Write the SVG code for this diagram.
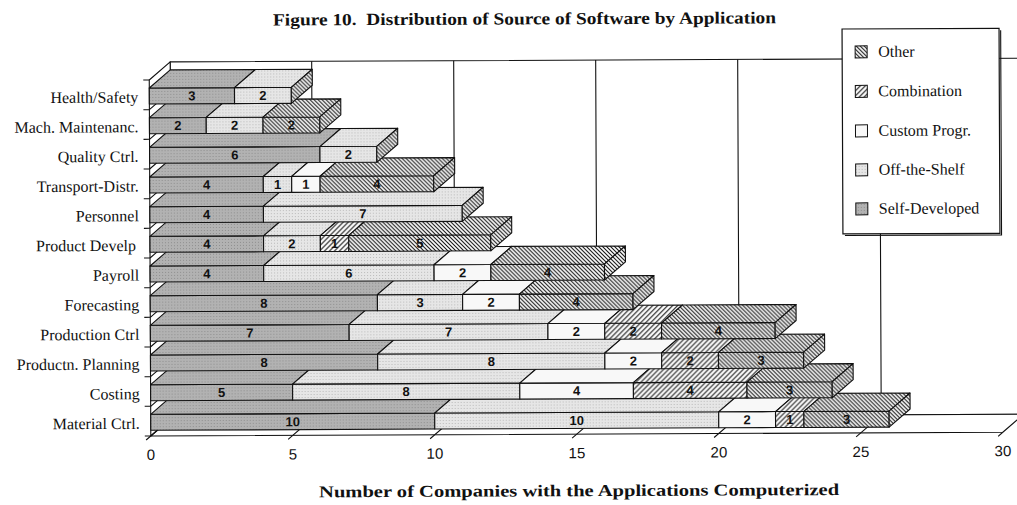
<svg xmlns="http://www.w3.org/2000/svg" width="1017" height="505" viewBox="0 0 1017 505">
<style>
  .ln{fill:none;stroke:#111;stroke-width:1.1}
  .wall{fill:#fff;stroke:#111;stroke-width:1.1;stroke-linejoin:round}
  .bar rect,.bar path{stroke:#111;stroke-width:1.1;stroke-linejoin:round}
  .s{fill:url(#pSelf)}
  .o{fill:url(#pOff)}
  .c{fill:#f8f8f8}
  .m{fill:url(#pComb)}
  .h{fill:url(#pOther)}
  .cat{font-family:"Liberation Serif","Times New Roman",serif;font-size:16px;text-anchor:end;fill:#111}
  .v{font-family:"Liberation Sans",Arial,sans-serif;font-weight:bold;font-size:13px;text-anchor:middle;fill:#111}
  .tick{font-family:"Liberation Sans",Arial,sans-serif;font-size:15px;text-anchor:middle;fill:#111}
  .leg{font-family:"Liberation Serif","Times New Roman",serif;font-size:16px;fill:#111}
  .ttl{font-family:"Liberation Serif","Times New Roman",serif;font-weight:bold;fill:#111}
</style>
<defs>
  <pattern id="pSelf" width="3" height="3" patternUnits="userSpaceOnUse">
    <rect width="3" height="3" fill="#b2b2b2"/>
    <rect width="1" height="1" fill="#8e8e8e"/>
  </pattern>
  <pattern id="pOff" width="3" height="3" patternUnits="userSpaceOnUse">
    <rect width="3" height="3" fill="#e6e6e6"/>
    <rect x="1" y="1" width="1" height="1" fill="#b9b9b9"/>
  </pattern>
  <pattern id="pOther" width="4" height="4" patternUnits="userSpaceOnUse">
    <rect width="4" height="4" fill="#fff"/>
    <path d="M-1,-1 L5,5 M-1,3 L1,5 M3,-1 L5,1" stroke="#111" stroke-width="1.1"/>
  </pattern>
  <pattern id="pComb" width="5" height="5" patternUnits="userSpaceOnUse">
    <rect width="5" height="5" fill="#fff"/>
    <path d="M-1,6 L6,-1 M-1,1 L1,-1 M4,6 L6,4" stroke="#111" stroke-width="1.1"/>
  </pattern>
</defs>
<rect width="1017" height="505" fill="#fff"/>
<g transform="rotate(-0.25 150 250)">
  <text class="ttl" x="274" y="26" font-size="17" textLength="503" lengthAdjust="spacingAndGlyphs" xml:space="preserve">Figure 10.  Distribution of Source of Software by Application</text>

  <!-- chart frame: back wall, left wall, floor -->
  <g id="frame">
    <rect class="wall" x="171" y="62" width="852" height="356"/>
    <path class="ln" d="M312.5 62V418M454.5 62V418M596.5 62V418M738.5 62V418M880.5 62V418"/>
    <path class="wall" d="M150 436V80L171 62V418Z"/>
    <path class="ln" d="M150 109.7l21-18M150 139.3l21-18M150 169l21-18M150 198.7l21-18M150 228.3l21-18M150 258l21-18M150 287.7l21-18M150 317.3l21-18M150 347l21-18M150 376.7l21-18M150 406.3l21-18"/>
    <path class="ln" d="M144 80h6M144 109.7h6M144 139.3h6M144 169h6M144 198.7h6M144 228.3h6M144 258h6M144 287.7h6M144 317.3h6M144 347h6M144 376.7h6M144 406.3h6M144 436h6"/>
    <path class="wall" d="M150 436H1002L1023 418H171Z"/>
    <path class="ln" d="M145.3 440l25.7-22M287.3 440l25.7-22M429.3 440l25.7-22M571.3 440l25.7-22M713.3 440l25.7-22M855.3 440l25.7-22M997.3 440l4.7-4"/>
  </g>

  <!-- bars, drawn from the bottom row upward -->
  <g class="bar">
    <g id="row-material-ctrl" transform="translate(0 414.3)">
      <text class="cat" x="139" y="14.5">Material Ctrl.</text>
      <rect class="s" x="150" y="0" width="284" height="16"/><path class="s" d="M150 0h284l21-18h-284z"/>
      <rect class="o" x="434" y="0" width="284" height="16"/><path class="o" d="M434 0h284l21-18h-284z"/>
      <rect class="c" x="718" y="0" width="56.8" height="16"/><path class="c" d="M718 0h56.8l21-18h-56.8z"/>
      <rect class="m" x="774.8" y="0" width="28.4" height="16"/><path class="m" d="M774.8 0h28.4l21-18h-28.4z"/>
      <rect class="h" x="803.2" y="0" width="85.2" height="16"/><path class="h" d="M803.2 0h85.2l21-18h-85.2z"/>
      <path class="h" d="M888.4 0v16l21-18v-16z"/>
      <text class="v" x="292" y="12.5">10</text><text class="v" x="576" y="12.5">10</text><text class="v" x="746.4" y="12.5">2</text><text class="v" x="789" y="12.5">1</text><text class="v" x="845.8" y="12.5">3</text>
    </g>
    <g id="row-costing" transform="translate(0 384.7)">
      <text class="cat" x="139" y="14.5">Costing</text>
      <rect class="s" x="150" y="0" width="142" height="16"/><path class="s" d="M150 0h142l21-18h-142z"/>
      <rect class="o" x="292" y="0" width="227.2" height="16"/><path class="o" d="M292 0h227.2l21-18h-227.2z"/>
      <rect class="c" x="519.2" y="0" width="113.6" height="16"/><path class="c" d="M519.2 0h113.6l21-18h-113.6z"/>
      <rect class="m" x="632.8" y="0" width="113.6" height="16"/><path class="m" d="M632.8 0h113.6l21-18h-113.6z"/>
      <rect class="h" x="746.4" y="0" width="85.2" height="16"/><path class="h" d="M746.4 0h85.2l21-18h-85.2z"/>
      <path class="h" d="M831.6 0v16l21-18v-16z"/>
      <text class="v" x="221" y="12.5">5</text><text class="v" x="405.6" y="12.5">8</text><text class="v" x="576" y="12.5">4</text><text class="v" x="689.6" y="12.5">4</text><text class="v" x="789" y="12.5">3</text>
    </g>
    <g id="row-productn-planning" transform="translate(0 355)">
      <text class="cat" x="139" y="14.5">Productn. Planning</text>
      <rect class="s" x="150" y="0" width="227.2" height="16"/><path class="s" d="M150 0h227.2l21-18h-227.2z"/>
      <rect class="o" x="377.2" y="0" width="227.2" height="16"/><path class="o" d="M377.2 0h227.2l21-18h-227.2z"/>
      <rect class="c" x="604.4" y="0" width="56.8" height="16"/><path class="c" d="M604.4 0h56.8l21-18h-56.8z"/>
      <rect class="m" x="661.2" y="0" width="56.8" height="16"/><path class="m" d="M661.2 0h56.8l21-18h-56.8z"/>
      <rect class="h" x="718" y="0" width="85.2" height="16"/><path class="h" d="M718 0h85.2l21-18h-85.2z"/>
      <path class="h" d="M803.2 0v16l21-18v-16z"/>
      <text class="v" x="263.6" y="12.5">8</text><text class="v" x="490.8" y="12.5">8</text><text class="v" x="632.8" y="12.5">2</text><text class="v" x="689.6" y="12.5">2</text><text class="v" x="760.6" y="12.5">3</text>
    </g>
    <g id="row-production-ctrl" transform="translate(0 325.3)">
      <text class="cat" x="139" y="14.5">Production Ctrl</text>
      <rect class="s" x="150" y="0" width="198.8" height="16"/><path class="s" d="M150 0h198.8l21-18h-198.8z"/>
      <rect class="o" x="348.8" y="0" width="198.8" height="16"/><path class="o" d="M348.8 0h198.8l21-18h-198.8z"/>
      <rect class="c" x="547.6" y="0" width="56.8" height="16"/><path class="c" d="M547.6 0h56.8l21-18h-56.8z"/>
      <rect class="m" x="604.4" y="0" width="56.8" height="16"/><path class="m" d="M604.4 0h56.8l21-18h-56.8z"/>
      <rect class="h" x="661.2" y="0" width="113.6" height="16"/><path class="h" d="M661.2 0h113.6l21-18h-113.6z"/>
      <path class="h" d="M774.8 0v16l21-18v-16z"/>
      <text class="v" x="249.4" y="12.5">7</text><text class="v" x="448.2" y="12.5">7</text><text class="v" x="576" y="12.5">2</text><text class="v" x="632.8" y="12.5">2</text><text class="v" x="718" y="12.5">4</text>
    </g>
    <g id="row-forecasting" transform="translate(0 295.7)">
      <text class="cat" x="139" y="14.5">Forecasting</text>
      <rect class="s" x="150" y="0" width="227.2" height="16"/><path class="s" d="M150 0h227.2l21-18h-227.2z"/>
      <rect class="o" x="377.2" y="0" width="85.2" height="16"/><path class="o" d="M377.2 0h85.2l21-18h-85.2z"/>
      <rect class="c" x="462.4" y="0" width="56.8" height="16"/><path class="c" d="M462.4 0h56.8l21-18h-56.8z"/>
      <rect class="h" x="519.2" y="0" width="113.6" height="16"/><path class="h" d="M519.2 0h113.6l21-18h-113.6z"/>
      <path class="h" d="M632.8 0v16l21-18v-16z"/>
      <text class="v" x="263.6" y="12.5">8</text><text class="v" x="419.8" y="12.5">3</text><text class="v" x="490.8" y="12.5">2</text><text class="v" x="576" y="12.5">4</text>
    </g>
    <g id="row-payroll" transform="translate(0 266)">
      <text class="cat" x="139" y="14.5">Payroll</text>
      <rect class="s" x="150" y="0" width="113.6" height="16"/><path class="s" d="M150 0h113.6l21-18h-113.6z"/>
      <rect class="o" x="263.6" y="0" width="170.4" height="16"/><path class="o" d="M263.6 0h170.4l21-18h-170.4z"/>
      <rect class="c" x="434" y="0" width="56.8" height="16"/><path class="c" d="M434 0h56.8l21-18h-56.8z"/>
      <rect class="h" x="490.8" y="0" width="113.6" height="16"/><path class="h" d="M490.8 0h113.6l21-18h-113.6z"/>
      <path class="h" d="M604.4 0v16l21-18v-16z"/>
      <text class="v" x="206.8" y="12.5">4</text><text class="v" x="348.8" y="12.5">6</text><text class="v" x="462.4" y="12.5">2</text><text class="v" x="547.6" y="12.5">4</text>
    </g>
    <g id="row-product-develp" transform="translate(0 236.3)">
      <text class="cat" x="136" y="14.5">Product Develp</text>
      <rect class="s" x="150" y="0" width="113.6" height="16"/><path class="s" d="M150 0h113.6l21-18h-113.6z"/>
      <rect class="o" x="263.6" y="0" width="56.8" height="16"/><path class="o" d="M263.6 0h56.8l21-18h-56.8z"/>
      <rect class="m" x="320.4" y="0" width="28.4" height="16"/><path class="m" d="M320.4 0h28.4l21-18h-28.4z"/>
      <rect class="h" x="348.8" y="0" width="142" height="16"/><path class="h" d="M348.8 0h142l21-18h-142z"/>
      <path class="h" d="M490.8 0v16l21-18v-16z"/>
      <text class="v" x="206.8" y="12.5">4</text><text class="v" x="292" y="12.5">2</text><text class="v" x="334.6" y="12.5">1</text><text class="v" x="419.8" y="12.5">5</text>
    </g>
    <g id="row-personnel" transform="translate(0 206.7)">
      <text class="cat" x="139" y="14.5">Personnel</text>
      <rect class="s" x="150" y="0" width="113.6" height="16"/><path class="s" d="M150 0h113.6l21-18h-113.6z"/>
      <rect class="o" x="263.6" y="0" width="198.8" height="16"/><path class="o" d="M263.6 0h198.8l21-18h-198.8z"/>
      <path class="h" d="M462.4 0v16l21-18v-16z"/>
      <text class="v" x="206.8" y="12.5">4</text><text class="v" x="363" y="12.5">7</text>
    </g>
    <g id="row-transport-distr" transform="translate(0 177)">
      <text class="cat" x="139" y="14.5">Transport-Distr.</text>
      <rect class="s" x="150" y="0" width="113.6" height="16"/><path class="s" d="M150 0h113.6l21-18h-113.6z"/>
      <rect class="o" x="263.6" y="0" width="28.4" height="16"/><path class="o" d="M263.6 0h28.4l21-18h-28.4z"/>
      <rect class="c" x="292" y="0" width="28.4" height="16"/><path class="c" d="M292 0h28.4l21-18h-28.4z"/>
      <rect class="h" x="320.4" y="0" width="113.6" height="16"/><path class="h" d="M320.4 0h113.6l21-18h-113.6z"/>
      <path class="h" d="M434 0v16l21-18v-16z"/>
      <text class="v" x="206.8" y="12.5">4</text><text class="v" x="277.8" y="12.5">1</text><text class="v" x="306.2" y="12.5">1</text><text class="v" x="377.2" y="12.5">4</text>
    </g>
    <g id="row-quality-ctrl" transform="translate(0 147.3)">
      <text class="cat" x="139" y="14.5">Quality Ctrl.</text>
      <rect class="s" x="150" y="0" width="170.4" height="16"/><path class="s" d="M150 0h170.4l21-18h-170.4z"/>
      <rect class="o" x="320.4" y="0" width="56.8" height="16"/><path class="o" d="M320.4 0h56.8l21-18h-56.8z"/>
      <path class="h" d="M377.2 0v16l21-18v-16z"/>
      <text class="v" x="235.2" y="12.5">6</text><text class="v" x="348.8" y="12.5">2</text>
    </g>
    <g id="row-mach-maintenanc" transform="translate(0 117.7)">
      <text class="cat" x="139" y="14.5">Mach. Maintenanc.</text>
      <rect class="s" x="150" y="0" width="56.8" height="16"/><path class="s" d="M150 0h56.8l21-18h-56.8z"/>
      <rect class="o" x="206.8" y="0" width="56.8" height="16"/><path class="o" d="M206.8 0h56.8l21-18h-56.8z"/>
      <rect class="h" x="263.6" y="0" width="56.8" height="16"/><path class="h" d="M263.6 0h56.8l21-18h-56.8z"/>
      <path class="h" d="M320.4 0v16l21-18v-16z"/>
      <text class="v" x="178.4" y="12.5">2</text><text class="v" x="235.2" y="12.5">2</text><text class="v" x="292" y="12.5">2</text>
    </g>
    <g id="row-health-safety" transform="translate(0 88)">
      <text class="cat" x="139" y="14.5">Health/Safety</text>
      <rect class="s" x="150" y="0" width="85.2" height="16"/><path class="s" d="M150 0h85.2l21-18h-85.2z"/>
      <rect class="o" x="235.2" y="0" width="56.8" height="16"/><path class="o" d="M235.2 0h56.8l21-18h-56.8z"/>
      <path class="h" d="M292 0v16l21-18v-16z"/>
      <text class="v" x="192.6" y="12.5">3</text><text class="v" x="263.6" y="12.5">2</text>
    </g>
  </g>

  <!-- value axis -->
  <g id="value-axis">
    <text class="tick" x="150" y="460">0</text>
    <text class="tick" x="292" y="460">5</text>
    <text class="tick" x="434" y="460">10</text>
    <text class="tick" x="576" y="460">15</text>
    <text class="tick" x="718" y="460">20</text>
    <text class="tick" x="860" y="460">25</text>
    <text class="tick" x="1002" y="460">30</text>
    <text class="ttl" x="318" y="498" font-size="16.5" textLength="520" lengthAdjust="spacingAndGlyphs">Number of Companies with the Applications Computerized</text>
  </g>

  <!-- legend -->
  <g id="legend">
    <rect x="843" y="32" width="157" height="205" fill="#fff" stroke="#111" stroke-width="1.2"/>
    <path class="ln" d="M1001.6 34V238.6H845"/>
    <rect class="h" x="856" y="49" width="12" height="12" stroke="#111" stroke-width="1"/>
    <text class="leg" x="879" y="60">Other</text>
    <rect class="m" x="856" y="88.5" width="12" height="12" stroke="#111" stroke-width="1"/>
    <text class="leg" x="879" y="99.5">Combination</text>
    <rect class="c" x="856" y="128" width="12" height="12" stroke="#111" stroke-width="1"/>
    <text class="leg" x="879" y="139">Custom Progr.</text>
    <rect class="o" x="856" y="167" width="12" height="12" stroke="#111" stroke-width="1"/>
    <text class="leg" x="879" y="178">Off-the-Shelf</text>
    <rect class="s" x="856" y="206" width="12" height="12" stroke="#111" stroke-width="1"/>
    <text class="leg" x="879" y="217">Self-Developed</text>
  </g>
</g>
</svg>
